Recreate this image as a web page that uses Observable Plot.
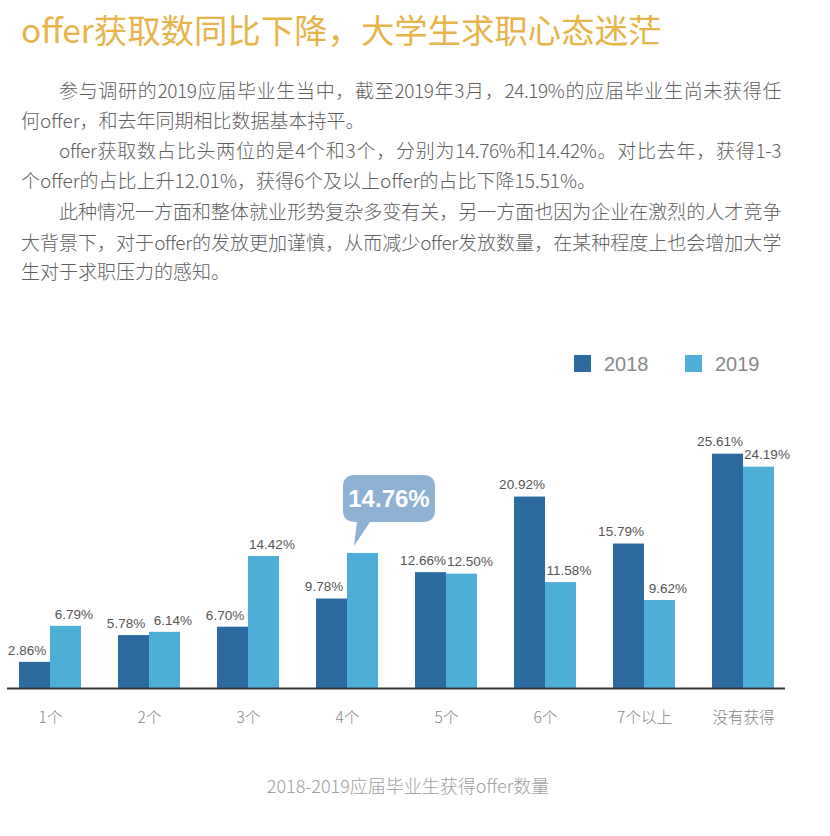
<!DOCTYPE html>
<html><head><meta charset="utf-8">
<script src="https://cdn.jsdelivr.net/npm/d3@7"></script>
<script src="https://cdn.jsdelivr.net/npm/@observablehq/plot@0.6"></script>
<style>
html,body{margin:0;padding:0;background:#fff;}
body{width:830px;height:836px;position:relative;overflow:hidden;font-family:"Noto Sans CJK SC","Noto Sans",sans-serif;}
.abs{position:absolute;white-space:nowrap;}
#title{left:21px;top:11px;font-size:33.4px;line-height:36px;color:#e6b44b;font-weight:400;}
.line{position:absolute;font-size:19px;line-height:24px;color:#606060;font-weight:300;}
.just{text-align:justify;text-align-last:justify;letter-spacing:-0.4px;}
.sw{position:absolute;width:17px;height:17px;}
.lg{position:absolute;font-family:"Liberation Sans",Arial,sans-serif;font-size:20px;line-height:20px;color:#888;}
#caption{position:absolute;left:0;width:816px;text-align:center;top:774px;font-size:18px;line-height:22px;color:#a0a0a0;font-weight:300;}
#chart{position:absolute;left:0;top:380px;}
</style></head>
<body>
<div id="title" class="abs">offer获取数同比下降，大学生求职心态迷茫</div>
<div class="line just" style="left:59px;width:722px;top:78px;">参与调研的2019应届毕业生当中，截至2019年3月，24.19%的应届毕业生尚未获得任</div>
<div class="line" style="left:21px;top:108px;white-space:nowrap;">何offer，和去年同期相比数据基本持平。</div>
<div class="line just" style="left:59px;width:722px;top:138px;">offer获取数占比头两位的是4个和3个，分别为14.76%和14.42%。对比去年，获得1-3</div>
<div class="line" style="left:21px;top:168px;white-space:nowrap;">个offer的占比上升12.01%，获得6个及以上offer的占比下降15.51%。</div>
<div class="line just" style="left:59px;width:722px;top:199px;">此种情况一方面和整体就业形势复杂多变有关，另一方面也因为企业在激烈的人才竞争</div>
<div class="line just" style="left:21px;width:760px;top:230px;">大背景下，对于offer的发放更加谨慎，从而减少offer发放数量，在某种程度上也会增加大学</div>
<div class="line" style="left:21px;top:259px;white-space:nowrap;">生对于求职压力的感知。</div>

<div id="legend"></div>
<div id="chart"></div>
<div id="caption">2018-2019应届毕业生获得offer数量</div>

<script>
// ---- data ----
const categories = ["1个","2个","3个","4个","5个","6个","7个以上","没有获得"];
const years = ["2018","2019"];
const values2018 = [2.86, 5.78, 6.70, 9.78, 12.66, 20.92, 15.79, 25.61];
const values2019 = [6.79, 6.14, 14.42, 14.76, 12.50, 11.58, 9.62, 24.19];
const highlightCategory = "4个";
const highlightYear = "2019";
const yDomain = [0, 30];
const colors = ["#2c6aa0", "#4daed8"];

// ---- table ----
const rows = [];
categories.forEach((c, i) => {
  rows.push({category: c, year: years[0], value: values2018[i]});
  rows.push({category: c, year: years[1], value: values2019[i]});
});
const fmt = v => v.toFixed(2) + "%";

// ---- layout ----
const W = 830, H = 350;
const mL = 7, mR = 45, mT = 33.5, mB = 42;
const padInner = 0.377, padOuter = 0.1;
const step = (W - mL - mR) / (categories.length - padInner + 2 * padOuter);
const half = step * (1 - padInner) / 2;

const rows18 = rows.filter(d => d.year === years[0]);
const rows19 = rows.filter(d => d.year === years[1]);
const labels19 = rows19.filter(d => !(d.category === highlightCategory));

const labelFont = "'Liberation Sans', Arial, sans-serif";
const svg = Plot.plot({
  width: W, height: H,
  marginLeft: mL, marginRight: mR, marginTop: mT, marginBottom: mB,
  style: {fontFamily: "'Noto Sans CJK SC', sans-serif", background: "transparent"},
  x: {domain: categories, paddingInner: padInner, paddingOuter: padOuter, label: null},
  y: {domain: yDomain, axis: null},
  color: {domain: years, range: colors},
  marks: [
    Plot.barY(rows18, {x: "category", y: "value", fill: "year", insetRight: half, insetLeft: 0}),
    Plot.barY(rows19, {x: "category", y: "value", fill: "year", insetLeft: half, insetRight: 0}),
    Plot.ruleY([0], {stroke: "#3a3a3a", strokeWidth: 2}),
    Plot.axisX({tickSize: 0, tickPadding: 23, fontSize: 15.5, fill: "#858585", label: null, fontWeight: 300}),
    Plot.text(rows18, {x: "category", y: "value", text: d => fmt(d.value), dx: -half / 2 - 8, dy: -12,
      fontSize: 13.5, fill: "#555", fontFamily: labelFont}),
    Plot.text(labels19, {x: "category", y: "value", text: d => fmt(d.value), dx: half / 2 + 8, dy: -12,
      fontSize: 13.5, fill: "#555", fontFamily: labelFont})
  ]
});
document.getElementById("chart").appendChild(svg);

// ---- callout bubble for the highlighted bar, placed with the plot's scales ----
const xs = svg.scale("x"), ys = svg.scale("y");
const hv = values2019[categories.indexOf(highlightCategory)];
const bx = xs.apply(highlightCategory) + half;   // left edge of highlighted bar
const by = ys.apply(hv);                          // top of highlighted bar
const L = bx - 4, R = bx + 88, T = by - 78, B = by - 31, r = 12;
const t1 = bx + 10, t2 = bx + 23, tipx = bx + 7, tipy = by - 7;
const p = `M${L+r},${T} H${R-r} Q${R},${T} ${R},${T+r} V${B-r} Q${R},${B} ${R-r},${B} H${t2} L${tipx},${tipy} L${t1},${B} H${L+r} Q${L},${B} ${L},${B-r} V${T+r} Q${L},${T} ${L+r},${T} Z`;
const g = d3.select(svg).append("g");
g.append("path").attr("d", p).attr("fill", "#8db2d4");
g.append("text").attr("x", (L + R) / 2).attr("y", (T + B) / 2).attr("text-anchor", "middle")
  .attr("dominant-baseline", "central").attr("fill", "#fff")
  .attr("font-family", labelFont).attr("font-weight", "bold")
  .attr("font-size", 24).text(fmt(hv));

// ---- legend ----
const legend = document.getElementById("legend");
const lgX = [574, 685];
years.forEach((y, i) => {
  const s = document.createElement("div");
  s.className = "sw"; s.style.left = lgX[i] + "px"; s.style.top = "355px"; s.style.background = colors[i];
  legend.appendChild(s);
  const t = document.createElement("div");
  t.className = "lg"; t.style.left = (lgX[i] + 30) + "px"; t.style.top = "354px"; t.textContent = y;
  legend.appendChild(t);
});
</script>
</body></html>
